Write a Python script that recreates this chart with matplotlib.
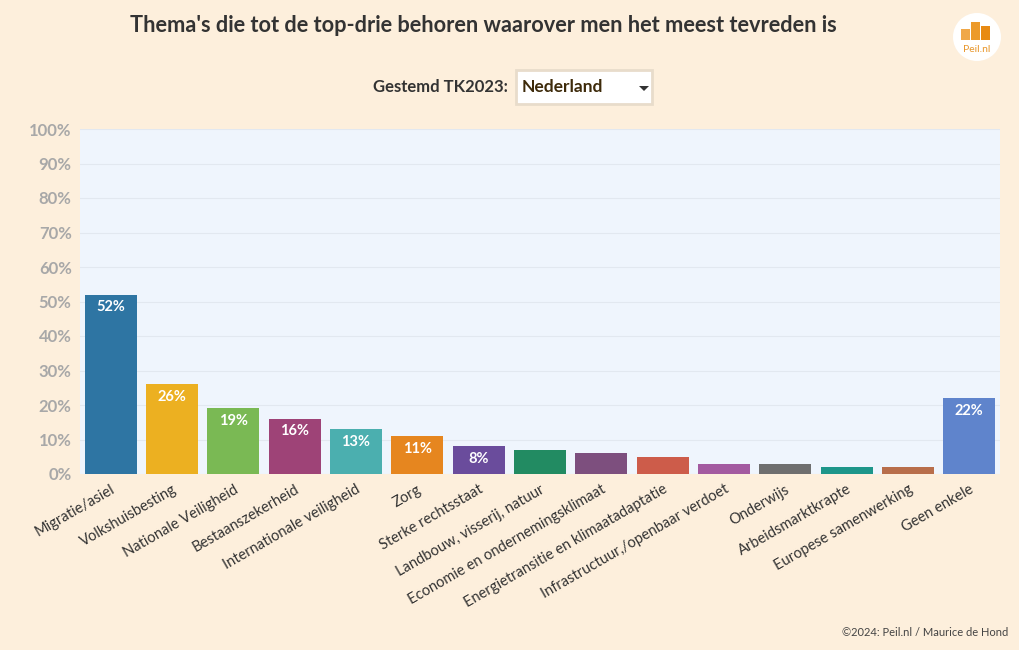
import numpy as np
import matplotlib.pyplot as plt
from matplotlib.patches import Rectangle, Circle, Polygon

plt.rcParams['font.family'] = ['Lato', 'DejaVu Sans']

themes = [
    "Migratie/asiel", "Volkshuisbesting", "Nationale Veiligheid", "Bestaanszekerheid",
    "Internationale veiligheid", "Zorg", "Sterke rechtsstaat", "Landbouw, visserij, natuur",
    "Economie en ondernemingsklimaat", "Energietransitie en klimaatadaptatie",
    "Infrastructuur,/openbaar verdoet", "Onderwijs", "Arbeidsmarktkrapte",
    "Europese samenwerking", "Geen enkele",
]
values = [52, 26, 19, 16, 13, 11, 8, 7, 6, 5, 3, 3, 2, 2, 22]
colors = [
    "#2e75a3", "#ecb021", "#7ab954", "#9e4377", "#4bafaf", "#e6861f", "#6a4c9c",
    "#228b62", "#7d4f7e", "#cd5c4a", "#a35aa0", "#6f6f6f", "#1d968a", "#b86e4b",
    "#5f84cc",
]
y_ticks = list(range(0, 101, 10))

BG = "#fdefdc"
fig = plt.figure(figsize=(10.2, 6.5), dpi=100, facecolor=BG)
ax = fig.add_axes([80 / 1020, 176 / 650, 920 / 1020, 345 / 650])
ax.set_facecolor("#eff5fd")

x = np.arange(len(values))
ax.bar(x, values, width=0.85, color=colors, zorder=3)
for xi, v in zip(x, values):
    if v >= 8:
        ax.text(xi, v - 1.6, f"{v}%", ha="center", va="top", color="white",
                fontsize=10.5, fontweight="bold", zorder=4)

ax.set_xlim(-0.5, len(values) - 0.5)
ax.set_ylim(0, 100)
ax.set_yticks(y_ticks)
ax.set_yticklabels([f"{t}%" for t in y_ticks], color="#a8a8a8", fontsize=12,
                   fontweight="bold")
ax.set_xticks(x)
ax.set_xticklabels(themes, rotation=30, ha="right", rotation_mode="anchor",
                   fontsize=10.5, color="#333333")
ax.tick_params(length=0, pad=6)
ax.grid(axis="y", color="#e2e8f0", linewidth=0.8, zorder=0)
for s in ax.spines.values():
    s.set_visible(False)

# title and selector
fig.text(483 / 1020, 1 - 25 / 650, "Thema's die tot de top-drie behoren waarover men het meest tevreden is",
         ha="center", va="center", fontsize=15.7, fontweight="bold", color="#333333")
fig.text(508 / 1020, 1 - 87 / 650, "Gestemd TK2023:", ha="right", va="center",
         fontsize=12, fontweight="bold", color="#333333")
fig.patches.append(Rectangle((516 / 1020, 1 - 104 / 650), 136 / 1020, 34 / 650,
                             transform=fig.transFigure, facecolor="white",
                             edgecolor="#e8dccb", linewidth=2))
fig.text(522 / 1020, 1 - 87 / 650, "Nederland", ha="left", va="center",
         fontsize=12.5, fontweight="bold", color="#3d2a0a")
fig.patches.append(Polygon([(639 / 1020, 1 - 86 / 650), (649 / 1020, 1 - 86 / 650),
                            (644 / 1020, 1 - 91 / 650)], closed=True,
                           transform=fig.transFigure, facecolor="#333333"))

# logo
lax = fig.add_axes([950 / 1020, 1 - 64 / 650, 54 / 1020, 54 / 650])
lax.set_xlim(0, 54)
lax.set_ylim(0, 54)
lax.axis("off")
lax.add_patch(Circle((27, 27), 24, facecolor="white", edgecolor="none"))
lax.add_patch(Rectangle((11, 24), 9, 11, facecolor="#f0a848"))
lax.add_patch(Rectangle((21, 24), 9, 18, facecolor="#ec9a2a"))
lax.add_patch(Rectangle((31, 24), 9, 14, facecolor="#e88a12"))
lax.text(27, 15, "Peil.nl", ha="center", va="center", fontsize=7.5, color="#e8962a")

fig.text(1008 / 1020, 1 - 632 / 650, "©2024: Peil.nl / Maurice de Hond", ha="right",
         va="center", fontsize=8, color="#444444")

fig.savefig("out.png", dpi=100, facecolor=BG)
